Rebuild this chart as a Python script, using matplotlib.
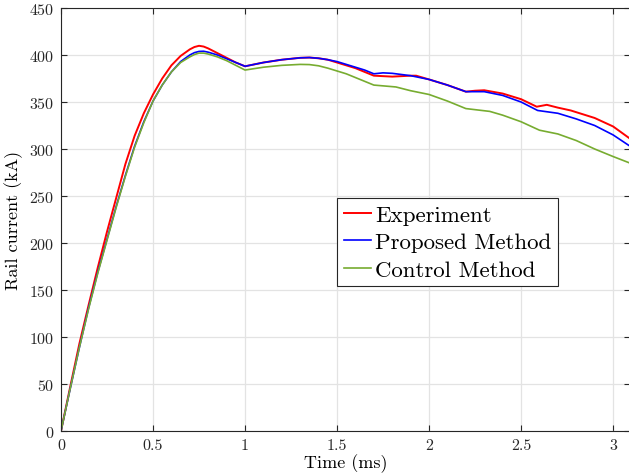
import matplotlib
matplotlib.use("Agg")
import matplotlib.pyplot as plt

plt.rcParams["font.family"] = ["cmr10", "DejaVu Serif"]
plt.rcParams["mathtext.fontset"] = "cm"
plt.rcParams["axes.formatter.use_mathtext"] = True

# 実験値
t_exp = [0, 0.05, 0.1, 0.15, 0.2, 0.25, 0.3, 0.35, 0.4, 0.45, 0.5, 0.55, 0.6, 0.65, 0.7, 0.725, 0.75,
         0.775, 0.8, 0.85, 0.9, 0.95, 1.0, 1.1, 1.2, 1.3, 1.35, 1.4, 1.45, 1.5, 1.55, 1.6, 1.65, 1.7,
         1.75, 1.8, 1.9, 1.93, 2.0, 2.1, 2.2, 2.25, 2.3, 2.4, 2.5, 2.585, 2.64, 2.7, 2.77, 2.9,
         3.0, 3.092]
i_exp = [0, 47, 93, 134, 174, 212, 248, 284, 314, 338, 358, 375, 389, 399, 406, 408.5, 409.8,
         409, 407, 402, 397, 392, 388, 392, 395, 397, 397.3, 396.5, 395, 392, 389, 386, 382, 378,
         377.5, 377, 378, 378, 374, 368, 361, 362, 362.5, 359, 353, 345, 347, 344, 341, 333,
         324, 311]

# 提案手法
t_prop = [0, 0.05, 0.1, 0.15, 0.2, 0.25, 0.3, 0.35, 0.4, 0.45, 0.5, 0.55, 0.6, 0.65, 0.7, 0.725,
          0.75, 0.775, 0.8, 0.85, 0.9, 0.95, 1.0, 1.1, 1.2, 1.3, 1.35, 1.4, 1.45, 1.5, 1.55, 1.6,
          1.65, 1.7, 1.75, 1.8, 1.9, 2.0, 2.1, 2.2, 2.3, 2.4, 2.5, 2.59, 2.7, 2.8, 2.9, 3.0, 3.092]
i_prop = [0, 45, 89, 131, 169, 204, 239, 272, 303, 329, 351, 368, 382, 393, 400, 402.5,
          403.8, 404, 403, 400, 396, 392, 388, 392, 395, 397, 397.3, 396.5, 395, 393, 390, 387,
          384, 380, 381, 380.5, 378, 374, 368, 361, 361, 357, 350, 341, 338, 332, 325, 315, 303]

# 比較手法
t_ctrl = [0, 0.05, 0.1, 0.15, 0.2, 0.25, 0.3, 0.35, 0.4, 0.45, 0.5, 0.55, 0.6, 0.65, 0.7, 0.725,
          0.75, 0.775, 0.8, 0.85, 0.9, 0.95, 1.0, 1.1, 1.2, 1.3, 1.35, 1.4, 1.45, 1.5, 1.55, 1.6,
          1.65, 1.7, 1.82, 1.9, 2.0, 2.1, 2.2, 2.33, 2.4, 2.5, 2.6, 2.7, 2.8, 2.9, 3.0, 3.092]
i_ctrl = [0, 45, 89, 130, 168, 203, 238, 271, 302, 328, 351, 368, 382, 392, 398, 400.5,
          402, 402, 401, 398, 394, 389, 384, 387, 389, 390, 389.8, 388.5, 386, 383, 380, 376,
          372, 368, 366, 362, 358, 351, 343, 340, 336, 329, 320, 316, 309, 300, 292, 285]

fig = plt.figure(figsize=(6.29, 4.77), dpi=100)
ax = fig.add_axes([61 / 629, 45 / 477, 569 / 629, 423 / 477])

ax.plot(t_exp, i_exp, color="#FF0000", lw=1.4, label="Experiment")
ax.plot(t_prop, i_prop, color="#0000FF", lw=1.2, label="Proposed Method")
ax.plot(t_ctrl, i_ctrl, color="#77AC30", lw=1.2, label="Control Method")

ax.set_xlim(0, 3.092)
ax.set_ylim(0, 450)
ax.set_xticks([0, 0.5, 1, 1.5, 2, 2.5, 3])
ax.set_xticklabels(["0", "0.5", "1", "1.5", "2", "2.5", "3"])
ax.set_yticks(range(0, 451, 50))

ax.grid(True, color="#e3e3e3", lw=0.9)
ax.set_axisbelow(True)
for s in ax.spines.values():
    s.set_color("#262626")
    s.set_linewidth(0.8)
ax.tick_params(direction="in", length=4, width=0.8, top=True, right=True,
               labelsize=11.5, colors="#262626", pad=5)

ax.set_xlabel("Time (ms)", fontsize=13, labelpad=1)
ax.set_ylabel("Rail current (kA)", fontsize=13, labelpad=4)

leg = ax.legend(loc="upper left", bbox_to_anchor=(0.485, 0.551), borderaxespad=0,
                fontsize=16.5, fancybox=False, framealpha=1, edgecolor="#262626",
                handlelength=1.2, handletextpad=0.15, labelspacing=0.32, borderpad=0.3)
leg.get_frame().set_linewidth(0.8)

fig.savefig("out.png", dpi=100)
